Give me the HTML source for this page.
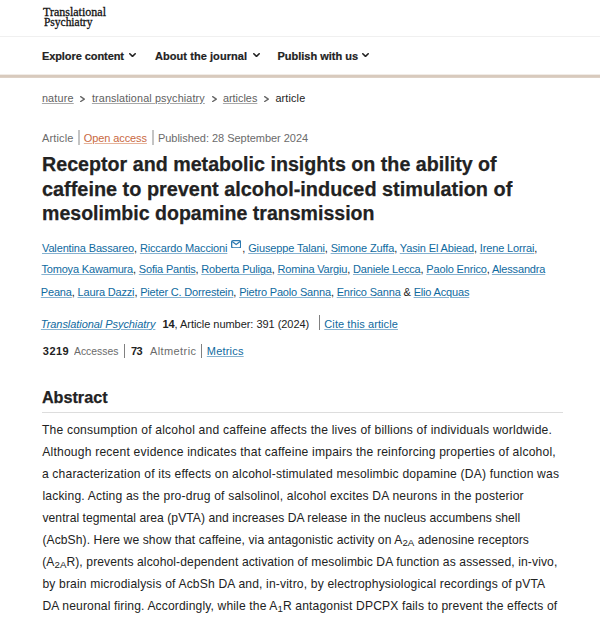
<!DOCTYPE html>
<html><head><meta charset="utf-8">
<style>
html,body{margin:0;padding:0;background:#fff;}
body{width:600px;height:618px;position:relative;overflow:hidden;font-family:"Liberation Sans",sans-serif;}
.t{position:absolute;white-space:nowrap;}
u{text-decoration:underline;text-underline-offset:0.8px;text-decoration-thickness:1.35px;}
u.lk{color:#0f6aa0;text-decoration-color:#86b2d0;}
u.oa{text-decoration-color:#e6b39a;}
u.bc{text-decoration-color:#a8a8a8;}
sub{font-size:0.8em;vertical-align:-0.2em;line-height:0;letter-spacing:0;}
.mail{display:inline-block;width:15px;height:8px;}
.rule{position:absolute;}
.ic{position:absolute;display:block;}
</style></head><body>
<div class="rule" style="left:0;top:36px;width:600px;height:1px;background:#f0f0f0"></div>
<div class="rule" style="left:0;top:74px;width:600px;height:1px;background:#f1ece7"></div>
<div class="rule" style="left:0;top:75px;width:600px;height:2px;background:#d8cabd"></div>
<div class="rule" style="left:0;top:77px;width:600px;height:1px;background:#ddd1c6"></div>
<div class="rule" style="left:42px;top:412px;width:521px;height:1px;background:#dddddd"></div>
<svg class="ic" style="left:129.00px;top:53.20px" width="7.00" height="4.20" viewBox="0 0 7.00 4.20"><polyline points="0.80,0.80 3.50,3.40 6.20,0.80" fill="none" stroke="#222" stroke-width="1.60" stroke-linecap="round" stroke-linejoin="round"/></svg>
<svg class="ic" style="left:252.50px;top:53.20px" width="7.00" height="4.20" viewBox="0 0 7.00 4.20"><polyline points="0.80,0.80 3.50,3.40 6.20,0.80" fill="none" stroke="#222" stroke-width="1.60" stroke-linecap="round" stroke-linejoin="round"/></svg>
<svg class="ic" style="left:361.50px;top:53.20px" width="7.00" height="4.20" viewBox="0 0 7.00 4.20"><polyline points="0.80,0.80 3.50,3.40 6.20,0.80" fill="none" stroke="#222" stroke-width="1.60" stroke-linecap="round" stroke-linejoin="round"/></svg>
<svg class="ic" style="left:80.20px;top:96.30px" width="5.00" height="6.20" viewBox="0 0 5.00 6.20"><polyline points="0.65,0.65 4.35,3.10 0.65,5.55" fill="none" stroke="#666" stroke-width="1.30" stroke-linecap="round" stroke-linejoin="round"/></svg>
<svg class="ic" style="left:212.00px;top:96.30px" width="5.00" height="6.20" viewBox="0 0 5.00 6.20"><polyline points="0.65,0.65 4.35,3.10 0.65,5.55" fill="none" stroke="#666" stroke-width="1.30" stroke-linecap="round" stroke-linejoin="round"/></svg>
<svg class="ic" style="left:264.40px;top:96.30px" width="5.00" height="6.20" viewBox="0 0 5.00 6.20"><polyline points="0.65,0.65 4.35,3.10 0.65,5.55" fill="none" stroke="#666" stroke-width="1.30" stroke-linecap="round" stroke-linejoin="round"/></svg>
<div class="rule" style="left:78.00px;top:130.00px;width:2px;height:14.70px;background:#c4c4c4"></div>
<div class="rule" style="left:151.70px;top:130.00px;width:2px;height:14.70px;background:#c4c4c4"></div>
<div class="rule" style="left:318.80px;top:315.20px;width:1px;height:15.10px;background:#808080"></div>
<div class="rule" style="left:124.00px;top:343.50px;width:1px;height:14.50px;background:#808080"></div>
<div class="rule" style="left:201.20px;top:343.50px;width:1px;height:14.50px;background:#808080"></div>
<svg class="ic" style="left:231px;top:239.5px" width="10.3" height="8.6" viewBox="0 0 10.3 8.6"><rect x="0.65" y="0.65" width="9" height="7.3" rx="1.4" fill="none" stroke="#2a78b0" stroke-width="1.3"/><polyline points="1.2,1.6 5.15,4.6 9.1,1.6" fill="none" stroke="#2a78b0" stroke-width="1.2"/></svg>
<div class="t" id="t0" style='left:42.50px;top:5.55px;font-size:12.60px;line-height:12.60px;font-weight:400;color:#111;font-family:"Liberation Serif", serif;transform:scaleX(0.9540);transform-origin:0 0;-webkit-text-stroke:0.3px #111;'>Translational</div>
<div class="t" id="t1" style='left:44.00px;top:15.55px;font-size:12.60px;line-height:12.60px;font-weight:400;color:#111;font-family:"Liberation Serif", serif;transform:scaleX(0.9096);transform-origin:0 0;-webkit-text-stroke:0.3px #111;'>Psychiatry</div>
<div class="t" id="t2" style='left:41.90px;top:51.09px;font-size:11.00px;line-height:11.00px;font-weight:700;color:#222222;font-family:"Liberation Sans", sans-serif;letter-spacing:-0.071px;-webkit-text-stroke:0.2px #222;'>Explore content</div>
<div class="t" id="t3" style='left:155.00px;top:51.09px;font-size:11.00px;line-height:11.00px;font-weight:700;color:#222222;font-family:"Liberation Sans", sans-serif;letter-spacing:0.062px;-webkit-text-stroke:0.2px #222;'>About the journal</div>
<div class="t" id="t4" style='left:277.40px;top:51.09px;font-size:11.00px;line-height:11.00px;font-weight:700;color:#222222;font-family:"Liberation Sans", sans-serif;letter-spacing:0.000px;-webkit-text-stroke:0.2px #222;'>Publish with us</div>
<div class="t" id="t5" style='left:41.90px;top:93.26px;font-size:10.80px;line-height:10.80px;font-weight:400;color:#5e5e5e;font-family:"Liberation Sans", sans-serif;letter-spacing:0.200px;'><u class="bc">nature</u></div>
<div class="t" id="t6" style='left:91.90px;top:93.26px;font-size:10.80px;line-height:10.80px;font-weight:400;color:#5e5e5e;font-family:"Liberation Sans", sans-serif;letter-spacing:0.130px;'><u class="bc">translational psychiatry</u></div>
<div class="t" id="t7" style='left:222.90px;top:93.46px;font-size:10.80px;line-height:10.80px;font-weight:400;color:#5e5e5e;font-family:"Liberation Sans", sans-serif;letter-spacing:0.029px;'><u class="bc">articles</u></div>
<div class="t" id="t8" style='left:275.40px;top:93.26px;font-size:10.80px;line-height:10.80px;font-weight:400;color:#222222;font-family:"Liberation Sans", sans-serif;letter-spacing:0.167px;'>article</div>
<div class="t" id="t9" style='left:41.90px;top:133.49px;font-size:11.00px;line-height:11.00px;font-weight:400;color:#6b6b6b;font-family:"Liberation Sans", sans-serif;letter-spacing:0.167px;'>Article</div>
<div class="t" id="t10" style='left:83.80px;top:133.49px;font-size:11.00px;line-height:11.00px;font-weight:400;color:#c9683f;font-family:"Liberation Sans", sans-serif;letter-spacing:-0.100px;'><u class="oa">Open access</u></div>
<div class="t" id="t11" style='left:157.92px;top:133.49px;font-size:11.00px;line-height:11.00px;font-weight:400;color:#6b6b6b;font-family:"Liberation Sans", sans-serif;letter-spacing:-0.030px;'>Published: 28 September 2024</div>
<div class="t" id="t12" style='left:42.46px;top:153.61px;font-size:20.90px;line-height:20.90px;font-weight:700;color:#222222;font-family:"Liberation Sans", sans-serif;transform:scaleX(0.9416);transform-origin:0 0;-webkit-text-stroke:0.25px #222;'>Receptor and metabolic insights on the ability of</div>
<div class="t" id="t13" style='left:41.92px;top:178.61px;font-size:20.90px;line-height:20.90px;font-weight:700;color:#222222;font-family:"Liberation Sans", sans-serif;transform:scaleX(0.9511);transform-origin:0 0;-webkit-text-stroke:0.25px #222;'>caffeine to prevent alcohol-induced stimulation of</div>
<div class="t" id="t14" style='left:42.24px;top:203.31px;font-size:20.90px;line-height:20.90px;font-weight:700;color:#222222;font-family:"Liberation Sans", sans-serif;transform:scaleX(0.9360);transform-origin:0 0;-webkit-text-stroke:0.25px #222;'>mesolimbic dopamine transmission</div>
<div class="t" id="t15" style='left:42.00px;top:242.99px;font-size:11.00px;line-height:11.00px;font-weight:400;color:#222222;font-family:"Liberation Sans", sans-serif;letter-spacing:-0.141px;'><u class="lk">Valentina Bassareo</u>, <u class="lk">Riccardo Maccioni</u><span class="mail"></span>, <u class="lk">Giuseppe Talani</u>, <u class="lk">Simone Zuffa</u>, <u class="lk">Yasin El Abiead</u>, <u class="lk">Irene Lorrai</u>,</div>
<div class="t" id="t16" style='left:41.40px;top:264.29px;font-size:11.00px;line-height:11.00px;font-weight:400;color:#222222;font-family:"Liberation Sans", sans-serif;letter-spacing:-0.168px;'><u class="lk">Tomoya Kawamura</u>, <u class="lk">Sofia Pantis</u>, <u class="lk">Roberta Puliga</u>, <u class="lk">Romina Vargiu</u>, <u class="lk">Daniele Lecca</u>, <u class="lk">Paolo Enrico</u>, <u class="lk">Alessandra</u></div>
<div class="t" id="t17" style='left:40.80px;top:286.69px;font-size:11.00px;line-height:11.00px;font-weight:400;color:#222222;font-family:"Liberation Sans", sans-serif;letter-spacing:-0.170px;'><u class="lk">Peana</u>, <u class="lk">Laura Dazzi</u>, <u class="lk">Pieter C. Dorrestein</u>, <u class="lk">Pietro Paolo Sanna</u>, <u class="lk">Enrico Sanna</u> &amp; <u class="lk">Elio Acquas</u></div>
<div class="t" id="t18" style='left:40.86px;top:318.69px;font-size:11.00px;line-height:11.00px;font-weight:400;color:#0f6aa0;font-family:"Liberation Sans", sans-serif;letter-spacing:-0.061px;font-style:italic;'><u class="lk">Translational Psychiatry</u></div>
<div class="t" id="t19" style='left:162.46px;top:318.69px;font-size:11.00px;line-height:11.00px;font-weight:400;color:#222222;font-family:"Liberation Sans", sans-serif;letter-spacing:-0.041px;'><b>14</b>, Article number: 391 (2024)</div>
<div class="t" id="t20" style='left:324.32px;top:318.69px;font-size:11.00px;line-height:11.00px;font-weight:400;color:#0f6aa0;font-family:"Liberation Sans", sans-serif;letter-spacing:0.088px;'><u class="lk">Cite this article</u></div>
<div class="t" id="t21" style='left:42.80px;top:346.09px;font-size:11.00px;line-height:11.00px;font-weight:700;color:#222222;font-family:"Liberation Sans", sans-serif;letter-spacing:0.467px;'>3219</div>
<div class="t" id="t22" style='left:74.24px;top:346.09px;font-size:11.00px;line-height:11.00px;font-weight:400;color:#6b6b6b;font-family:"Liberation Sans", sans-serif;transform:scaleX(0.9429);transform-origin:0 0;'>Accesses</div>
<div class="t" id="t23" style='left:130.90px;top:346.09px;font-size:11.00px;line-height:11.00px;font-weight:700;color:#222222;font-family:"Liberation Sans", sans-serif;letter-spacing:-0.400px;'>73</div>
<div class="t" id="t24" style='left:150.00px;top:346.09px;font-size:11.00px;line-height:11.00px;font-weight:400;color:#6b6b6b;font-family:"Liberation Sans", sans-serif;letter-spacing:0.400px;'>Altmetric</div>
<div class="t" id="t25" style='left:206.80px;top:346.09px;font-size:11.00px;line-height:11.00px;font-weight:400;color:#0f6aa0;font-family:"Liberation Sans", sans-serif;letter-spacing:0.200px;'><u class="lk">Metrics</u></div>
<div class="t" id="t26" style='left:41.90px;top:389.19px;font-size:16.20px;line-height:16.20px;font-weight:700;color:#222222;font-family:"Liberation Sans", sans-serif;letter-spacing:0.000px;-webkit-text-stroke:0.25px #222;'>Abstract</div>
<div class="t" id="t27" style='left:41.90px;top:424.06px;font-size:12.10px;line-height:12.10px;font-weight:400;color:#222;font-family:"Liberation Sans", sans-serif;letter-spacing:0.202px;'>The consumption of alcohol and caffeine affects the lives of billions of individuals worldwide.</div>
<div class="t" id="t28" style='left:42.30px;top:446.01px;font-size:12.10px;line-height:12.10px;font-weight:400;color:#222;font-family:"Liberation Sans", sans-serif;letter-spacing:0.200px;'>Although recent evidence indicates that caffeine impairs the reinforcing properties of alcohol,</div>
<div class="t" id="t29" style='left:41.90px;top:467.96px;font-size:12.10px;line-height:12.10px;font-weight:400;color:#222;font-family:"Liberation Sans", sans-serif;letter-spacing:0.187px;'>a characterization of its effects on alcohol-stimulated mesolimbic dopamine (DA) function was</div>
<div class="t" id="t30" style='left:42.40px;top:489.91px;font-size:12.10px;line-height:12.10px;font-weight:400;color:#222;font-family:"Liberation Sans", sans-serif;letter-spacing:0.180px;'>lacking. Acting as the pro-drug of salsolinol, alcohol excites DA neurons in the posterior</div>
<div class="t" id="t31" style='left:42.50px;top:511.86px;font-size:12.10px;line-height:12.10px;font-weight:400;color:#222;font-family:"Liberation Sans", sans-serif;letter-spacing:0.048px;'>ventral tegmental area (pVTA) and increases DA release in the nucleus accumbens shell</div>
<div class="t" id="t32" style='left:42.40px;top:533.81px;font-size:12.10px;line-height:12.10px;font-weight:400;color:#222;font-family:"Liberation Sans", sans-serif;letter-spacing:0.089px;'>(AcbSh). Here we show that caffeine, via antagonistic activity on A<sub>2A</sub> adenosine receptors</div>
<div class="t" id="t33" style='left:42.24px;top:555.76px;font-size:12.10px;line-height:12.10px;font-weight:400;color:#222;font-family:"Liberation Sans", sans-serif;letter-spacing:0.109px;'>(A<sub>2A</sub>R), prevents alcohol-dependent activation of mesolimbic DA function as assessed, in-vivo,</div>
<div class="t" id="t34" style='left:42.40px;top:577.71px;font-size:12.10px;line-height:12.10px;font-weight:400;color:#222;font-family:"Liberation Sans", sans-serif;letter-spacing:0.165px;'>by brain microdialysis of AcbSh DA and, in-vitro, by electrophysiological recordings of pVTA</div>
<div class="t" id="t35" style='left:42.40px;top:599.66px;font-size:12.10px;line-height:12.10px;font-weight:400;color:#222;font-family:"Liberation Sans", sans-serif;letter-spacing:0.140px;'>DA neuronal firing. Accordingly, while the A<sub>1</sub>R antagonist DPCPX fails to prevent the effects of</div>
</body></html>
